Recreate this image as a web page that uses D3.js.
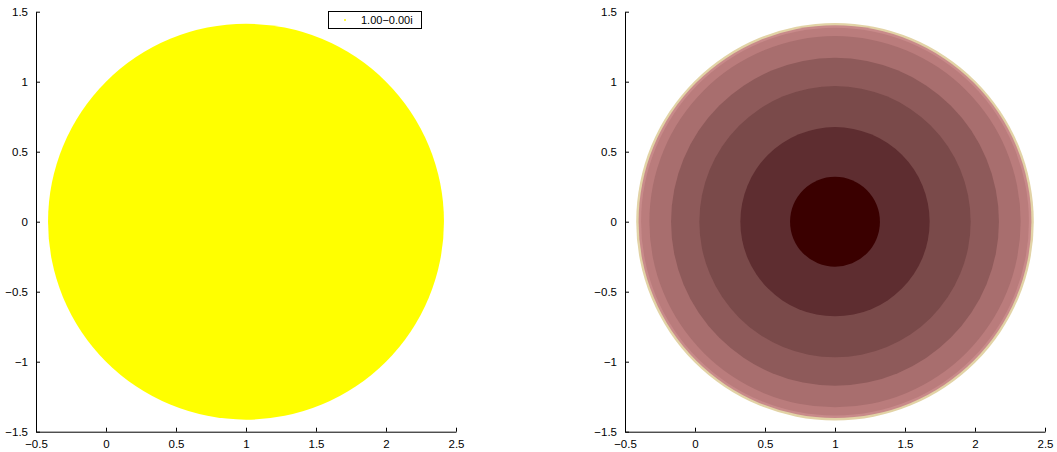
<!DOCTYPE html>
<html>
<head>
<meta charset="utf-8">
<script src="https://cdn.jsdelivr.net/npm/d3@7"></script>
<style>
  body { margin: 0; background: #fff; }
  svg text { font-family: "Liberation Sans", Arial, sans-serif; font-size: 11.5px; fill: #000; }
</style>
</head>
<body>
<svg id="chart" width="1057" height="452"></svg>
<script>
// data
const xTicks = [-0.5, 0, 0.5, 1, 1.5, 2, 2.5];
const yTicks = [-1.5, -1, -0.5, 0, 0.5, 1, 1.5];
const xDomain = [-0.5, 2.5];
const yDomain = [-1.5, 1.5];
const diskCenter = [1, 0];
const diskRadius = 1.414;
const diskColor = "#ffff00";
const legendLabels = ["1.00\u22120.00i"];
// filled contour bands, outer radius -> colour (outermost first)
const bandRadii = [1.42, 1.403, 1.385, 1.326, 1.171, 0.969, 0.676, 0.321];
const bandColors = ["#e2d3a6", "#c88a8a", "#ba7c7c", "#a86e6e", "#8e5a5a", "#7a4a4a", "#5e2d30", "#3a0000"];

const svg = d3.select("#chart");
const panels = [
  { left: 36, top: 11.7, width: 420, height: 420 },
  { left: 625, top: 11.7, width: 420, height: 420 }
];

const fmt = (d) => d3.format("")(d).replace("-", "\u2212");

function drawAxes(g, x, y, p) {
  const xAxis = d3.axisBottom(x).tickValues(xTicks).tickFormat(fmt).tickSizeInner(-4).tickSizeOuter(0).tickPadding(8);
  const yAxis = d3.axisLeft(y).tickValues(yTicks).tickFormat(fmt).tickSizeInner(-4).tickSizeOuter(0).tickPadding(8);
  const gx = g.append("g").attr("transform", `translate(0,${p.height})`).call(xAxis);
  const gy = g.append("g").call(yAxis);
  [gx, gy].forEach((a) => {
    a.select(".domain").attr("stroke", "#000").attr("stroke-width", 1);
    a.selectAll(".tick line").attr("stroke", "#000");
    a.selectAll("text").style("font-size", "11.5px").attr("fill", "#000");
  });
  gx.selectAll("text").attr("dy", "0.71em");
}

panels.forEach((p, i) => {
  const g = svg.append("g").attr("transform", `translate(${p.left},${p.top})`);
  const x = d3.scaleLinear().domain(xDomain).range([0, p.width]);
  const y = d3.scaleLinear().domain(yDomain).range([p.height, 0]);
  const k = x(1) - x(0);

  if (i === 0) {
    g.append("circle")
      .attr("cx", x(diskCenter[0]))
      .attr("cy", y(diskCenter[1]))
      .attr("r", diskRadius * k)
      .attr("fill", diskColor);
  } else {
    g.append("g")
      .selectAll("circle")
      .data(bandRadii)
      .join("circle")
      .attr("cx", x(diskCenter[0]))
      .attr("cy", y(diskCenter[1]))
      .attr("r", (d) => d * k)
      .attr("fill", (d, j) => bandColors[j]);
  }

  drawAxes(g, x, y, p);

  if (i === 0) {
    // legend box
    const lg = svg.append("g").attr("transform", "translate(328,11)");
    lg.append("rect")
      .attr("x", 0.5).attr("y", 0.5)
      .attr("width", 93).attr("height", 17)
      .attr("fill", "#fff").attr("stroke", "#000");
    lg.append("circle").attr("cx", 17).attr("cy", 9).attr("r", 1).attr("fill", diskColor);
    lg.selectAll("text.lbl")
      .data(legendLabels)
      .join("text")
      .attr("class", "lbl")
      .attr("x", 33).attr("y", 13)
      .style("font-size", "11px")
      .text((d) => d);
  }
});
</script>
</body>
</html>
